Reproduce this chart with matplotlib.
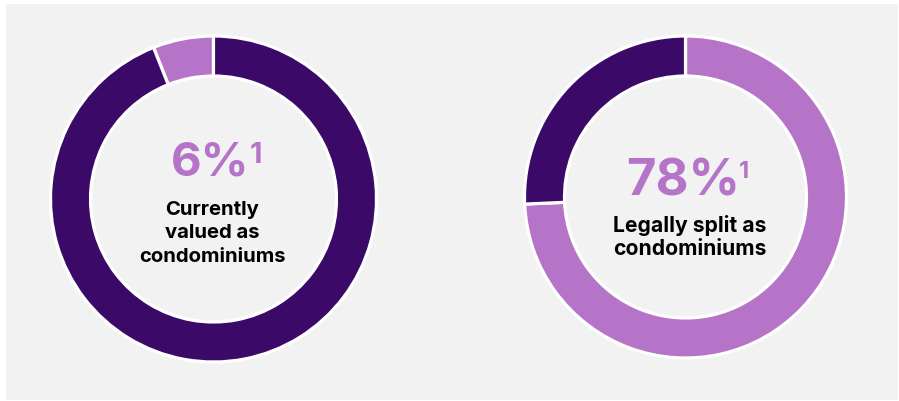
import matplotlib
matplotlib.use("Agg")
import matplotlib.pyplot as plt
from matplotlib.patches import Rectangle

plt.rcParams['font.family'] = ['Inter', 'DejaVu Sans']

# Data
left_labels = ["Condominium value", "Other"]
left_values = [6, 94]
right_labels = ["Legally split", "Other"]
right_values = [74.3, 25.7]
left_pct_text = "6%"
right_pct_text = "78%"
footnote_mark = "1"
left_caption = ["Currently", "valued as", "condominiums"]
right_caption = ["Legally split as", "condominiums"]

DARK = "#3b0a68"
LIGHT = "#b574c8"
BG = "#f2f2f2"

W, H = 899, 401
fig = plt.figure(figsize=(W / 100, H / 100), dpi=100)
fig.patch.set_facecolor("white")

ax = fig.add_axes([0, 0, 1, 1])


def Y(y):
    return H - y


ax.add_patch(Rectangle((6, Y(400)), 898 - 6, 396, facecolor=BG,
                       edgecolor="none", zorder=0))

lw = 2.3
# left donut: light slice counterclockwise from top
ax.pie(left_values, colors=[LIGHT, DARK], startangle=90, counterclock=True,
       center=(213.5, Y(199)), radius=163, frame=True,
       wedgeprops=dict(width=40, edgecolor="white", linewidth=lw, zorder=2))
# right donut: light slice clockwise from top
ax.pie(right_values, colors=[LIGHT, DARK], startangle=90, counterclock=False,
       center=(685.5, Y(197)), radius=161, frame=True,
       wedgeprops=dict(width=40, edgecolor="white", linewidth=lw, zorder=2))
ax.set_xlim(0, W)
ax.set_ylim(0, H)
ax.set_aspect("equal")
ax.axis("off")

# left texts
ax.text(210.5, Y(176), left_pct_text, ha="center", va="baseline",
        fontsize=34, fontweight="bold", color=LIGHT, zorder=3)
ax.text(250, Y(163), footnote_mark, ha="left", va="baseline",
        fontsize=21, fontweight="bold", color=LIGHT, zorder=3)
for i, line in enumerate(left_caption):
    ax.text(212, Y(215 + 23.3 * i), line, ha="center", va="baseline",
            fontsize=14.6, fontweight="bold", color="black", zorder=3)

# right texts
ax.text(683.5, Y(195), right_pct_text, ha="center", va="baseline",
        fontsize=36.5, fontweight="bold", color=LIGHT, zorder=3)
ax.text(739, Y(178), footnote_mark, ha="left", va="baseline",
        fontsize=17, fontweight="bold", color=LIGHT, zorder=3)
for i, line in enumerate(right_caption):
    ax.text(690, Y(232 + 23.3 * i), line, ha="center", va="baseline",
            fontsize=15.2, fontweight="bold", color="black", zorder=3)

fig.savefig("out.png", dpi=100, facecolor="white")
